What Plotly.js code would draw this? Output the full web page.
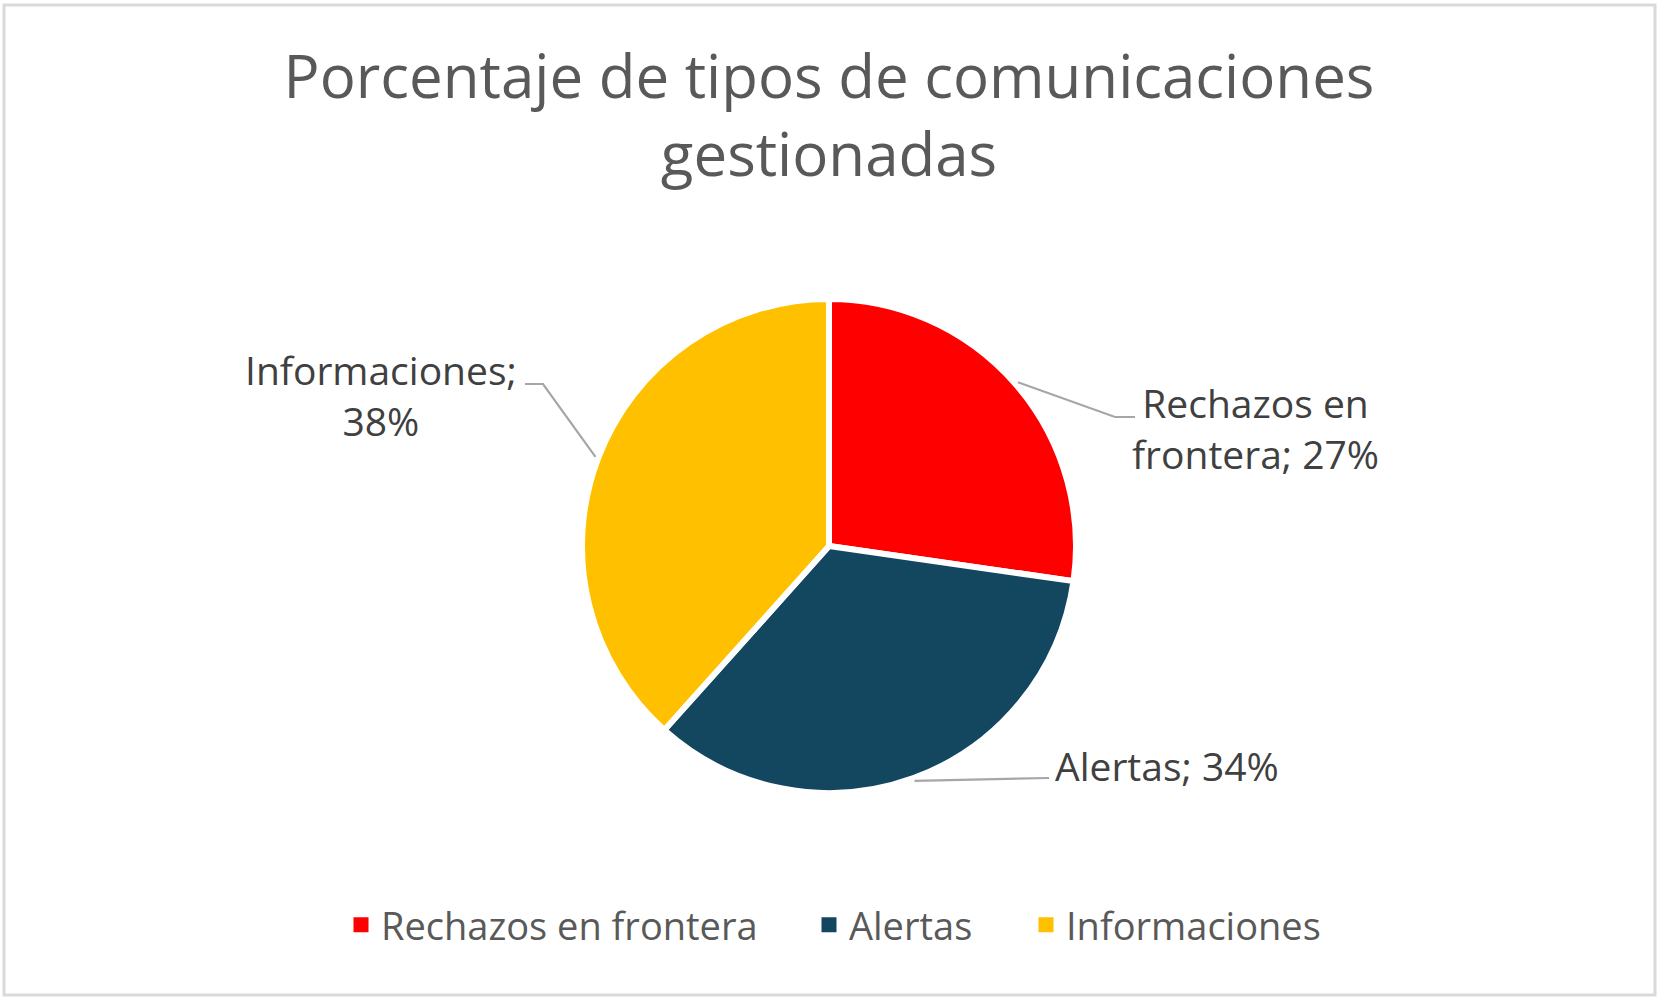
<!DOCTYPE html>
<html>
<head>
<meta charset="utf-8">
<script src="https://cdn.plot.ly/plotly-3.0.1.min.js"></script>
<style>
  html, body { margin: 0; padding: 0; background: #ffffff; }
  #chart { width: 1663px; height: 1003px; }
</style>
</head>
<body>
<div id="chart"></div>
<script>
// datos del gráfico
const categorias = ['Rechazos en frontera', 'Alertas', 'Informaciones'];
const valores = [27, 34, 38];
const colores = ['#FF0000', '#12475F', '#FFC000'];
// cómo se corta cada etiqueta en líneas
const etiquetasLinea1 = ['Rechazos en', 'Alertas;', 'Informaciones;'];
const etiquetasLinea2 = ['frontera;', '', ''];

const W = 1663, H = 1003;
const FONT = '"Open Sans", "DejaVu Sans", sans-serif';
const px = x => x / W;
const py = y => 1 - y / H;

// geometría del pastel en píxeles
const cx = 829, cy = 546, R = 247;

// posición de las etiquetas y del codo de cada línea guía (píxeles)
const posEtiqueta = [[1255, 428], [1167, 765], [381, 395]];
const codos = [
    [[1115, 417], [1135, 417]],
    [[1049, 778]],
    [[543, 384], [525, 384]]
];
// centro del cuadrito de cada entrada de la leyenda (píxeles)
const posLeyenda = [361, 829, 1046];
const yLeyenda = 925;

const total = valores.reduce((a, b) => a + b, 0);
let acum = 0;
const shapes = [];
const annotations = [];

valores.forEach((v, i) => {
    // ángulo medio del sector, medido desde las 12 en sentido horario
    const th = (acum + v / 2) / total * 2 * Math.PI;
    acum += v;
    const x0 = cx + (R + 3) * Math.sin(th);
    const y0 = cy - (R + 3) * Math.cos(th);
    let path = 'M' + px(x0) + ',' + py(y0);
    codos[i].forEach(p => { path += ' L' + px(p[0]) + ',' + py(p[1]); });
    shapes.push({
        type: 'path', xref: 'paper', yref: 'paper', path: path,
        line: {color: '#A6A6A6', width: 2.2}
    });

    const pct = Math.round(v / total * 100) + '%';
    let texto;
    if (etiquetasLinea2[i] !== '') {
        texto = etiquetasLinea1[i] + '<br>' + etiquetasLinea2[i] + ' ' + pct;
    } else if (i === 2) {
        texto = etiquetasLinea1[i] + '<br>' + pct;
    } else {
        texto = etiquetasLinea1[i] + ' ' + pct;
    }
    annotations.push({
        xref: 'paper', yref: 'paper',
        x: px(posEtiqueta[i][0]), y: py(posEtiqueta[i][1]),
        xanchor: 'center', yanchor: 'middle',
        text: texto, showarrow: false, align: 'center',
        font: {family: FONT, size: 39, color: '#404040'}
    });
});

// marco del gráfico
shapes.push({
    type: 'rect', xref: 'paper', yref: 'paper',
    x0: px(4), x1: px(1655), y0: py(995), y1: py(5),
    line: {color: '#D9D9D9', width: 3}
});

const pastel = {
    type: 'pie',
    labels: categorias,
    values: valores,
    sort: false,
    direction: 'clockwise',
    rotation: 0,
    textinfo: 'none',
    hoverinfo: 'label+percent',
    showlegend: false,
    marker: {colors: colores, line: {color: '#FFFFFF', width: 6}},
    domain: {
        x: [px(cx - R), px(cx + R)],
        y: [py(cy + R), py(cy - R)]
    }
};

// entradas de leyenda (trazas vacías con cuadrito), una leyenda por categoría
const nombresLeyenda = ['legend', 'legend2', 'legend3'];
const trazas = [pastel];
categorias.forEach((c, i) => {
    trazas.push({
        type: 'scatter', mode: 'markers',
        x: [null], y: [null],
        name: c,
        legend: nombresLeyenda[i],
        showlegend: true,
        marker: {symbol: 'square', size: 15, color: colores[i]},
        hoverinfo: 'skip'
    });
});

const layout = {
    width: W, height: H,
    margin: {l: 0, r: 0, t: 0, b: 0},
    paper_bgcolor: '#FFFFFF',
    plot_bgcolor: 'rgba(0,0,0,0)',
    xaxis: {visible: false},
    yaxis: {visible: false},
    title: {
        text: 'Porcentaje de tipos de comunicaciones<br>gestionadas',
        x: px(829), xanchor: 'center',
        y: py(98), yanchor: 'middle',
        font: {family: FONT, size: 60, color: '#595959'}
    },
    shapes: shapes,
    annotations: annotations
};

nombresLeyenda.forEach((n, i) => {
    layout[n] = {
        orientation: 'h',
        x: px(posLeyenda[i] - 20), xanchor: 'left',
        y: py(yLeyenda), yanchor: 'middle',
        bgcolor: 'rgba(0,0,0,0)',
        font: {family: FONT, size: 38, color: '#595959'}
    };
});

Plotly.newPlot('chart', trazas, layout, {displayModeBar: false, staticPlot: true});
</script>
</body>
</html>
